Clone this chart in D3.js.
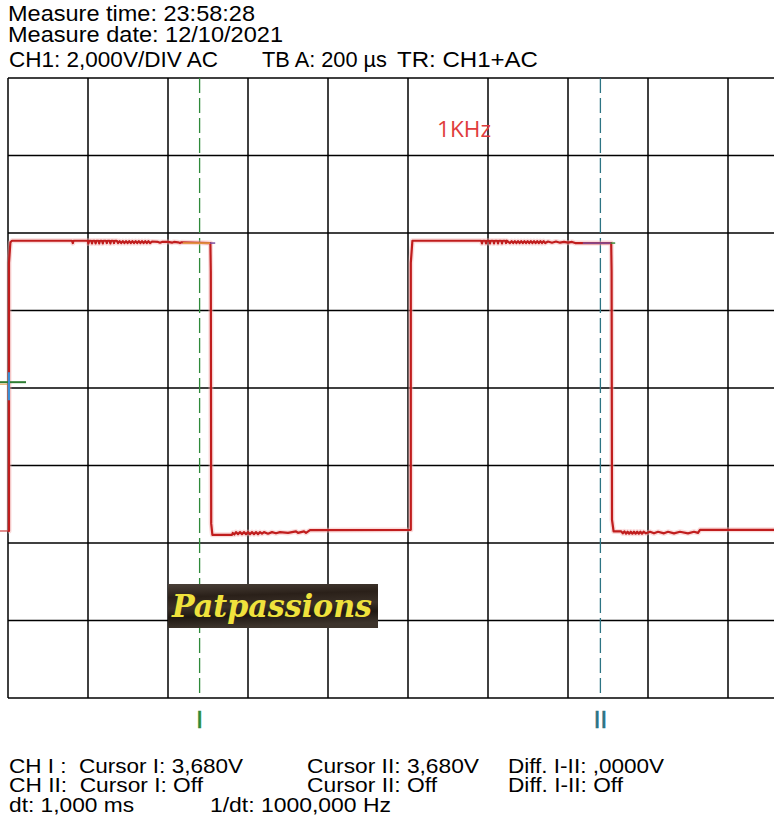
<!DOCTYPE html>
<html><head><meta charset="utf-8">
<script src="https://cdn.jsdelivr.net/npm/d3@7"></script>
<style>html,body{margin:0;padding:0;background:#fff;}svg{display:block;}text{white-space:pre;}</style>
</head><body>
<script>
// ---- data ----
const gridTimes = [0,200,400,600,800,1000,1200,1400,1600,1800,2000]; // µs
const gridVolts = [-8,-6,-4,-2,0,2,4,6,8]; // V
const headerLines = ["Measure time: 23:58:28","Measure date: 12/10/2021"];
const settingTexts = ["CH1: 2,000V/DIV AC","TB A: 200 µs","TR: CH1+AC"];
const footerRow1 = ["CH I :  Cursor I: 3,680V","Cursor II: 3,680V","Diff. I-II: ,0000V"];
const footerRow2 = ["CH II:  Cursor I: Off","Cursor II: Off","Diff. I-II: Off"];
const footerRow3 = ["dt: 1,000 ms","1/dt: 1000,000 Hz"];
const cursorTimes = [479, 1481];
const cursorLabels = ["I","II"];
const annotation = "1KHz";
const watermark = "Patpassions";
// trace CH1: [time µs, volts]
const trace = [
 [0,-3.69],[2.5,-3.69],[2.5,3.23],[6,3.76],[10,3.80],
 [160,3.80],[162,3.74],[164,3.80],
 [199,3.80],[201,3.73],[203,3.80],[208,3.80],[210,3.73],[212,3.80],
 [217,3.80],[219,3.73],[221,3.80],[226,3.80],[228,3.73],[230,3.80],
 [235,3.80],[237,3.73],[239,3.80],[245,3.80],[247,3.74],[249,3.80],
 [254,3.80],[256,3.73],[258,3.80],[263,3.80],[265,3.74],[267,3.80],
 [272,3.80],[275,3.74],[279,3.79],[283,3.74],[287,3.79],[291,3.74],[295,3.79],
 [299,3.74],[303,3.79],[307,3.74],[311,3.79],[315,3.74],[319,3.79],[323,3.74],
 [327,3.79],[331,3.74],[335,3.79],[339,3.74],[343,3.79],[347,3.74],[351,3.79],
 [355,3.74],[360,3.78],[375,3.77],[380,3.75],[385,3.77],[400,3.77],[410,3.75],
 [415,3.77],[425,3.76],[430,3.74],[434,3.76],[505,3.74],
 [506,3.74],[507,3.0],[508,-3.5],[511,-3.79],
 [560,-3.79],[562,-3.74],[566,-3.78],[570,-3.72],[575,-3.77],[580,-3.72],[585,-3.77],
 [590,-3.72],[595,-3.77],[600,-3.72],[605,-3.77],[610,-3.72],[615,-3.77],[620,-3.72],
 [625,-3.77],[630,-3.72],[635,-3.76],[640,-3.72],[650,-3.76],[660,-3.72],[670,-3.75],
 [680,-3.72],[700,-3.74],[720,-3.70],[725,-3.74],[740,-3.70],[745,-3.74],[755,-3.67],
 [1006,-3.66],[1007,-3.66],[1007,3.23],[1011,3.80],
 [1183,3.80],[1185,3.73],[1187,3.80],[1193,3.80],[1195,3.73],[1197,3.80],
 [1203,3.80],[1205,3.73],[1207,3.80],[1213,3.80],[1215,3.73],[1217,3.80],
 [1223,3.80],[1225,3.73],[1227,3.80],[1233,3.80],[1235,3.73],[1237,3.80],
 [1243,3.80],[1245,3.74],[1247,3.80],[1255,3.74],[1259,3.79],[1263,3.74],[1267,3.79],
 [1271,3.74],[1275,3.79],[1279,3.74],[1283,3.79],[1287,3.74],[1291,3.79],[1295,3.74],
 [1299,3.79],[1303,3.74],[1307,3.79],[1311,3.74],[1315,3.79],[1319,3.74],[1323,3.79],
 [1327,3.74],[1331,3.79],[1335,3.74],[1339,3.79],[1343,3.74],[1350,3.78],[1360,3.75],
 [1370,3.78],[1380,3.75],[1390,3.77],[1400,3.75],[1410,3.77],[1418,3.74],[1507,3.74],
 [1508,3.74],[1509,3.0],[1510,-3.4],[1514,-3.70],
 [1533,-3.70],[1537,-3.75],[1541,-3.70],[1545,-3.76],[1549,-3.71],[1553,-3.76],
 [1557,-3.71],[1561,-3.76],[1565,-3.71],[1569,-3.76],[1573,-3.71],[1577,-3.76],
 [1581,-3.71],[1585,-3.76],[1589,-3.71],[1595,-3.75],[1605,-3.71],[1615,-3.75],
 [1625,-3.71],[1640,-3.75],[1650,-3.71],[1665,-3.75],[1680,-3.71],[1700,-3.75],
 [1715,-3.71],[1725,-3.74],[1730,-3.66],[1930,-3.66]
];
// small overlay segments at the end of the high levels [t0, t1, volts, colour]
const overlaySegs = [
 [437,505,3.74,"#e8a848"],[505,518,3.74,"#7b4f9e"],
 [1437,1507,3.74,"#7b4f9e"],[1507,1518,3.74,"#3c8c3c"]
];
const groundMarkerVolts = 0.15;
const triggerVolts = -3.69;

// ---- drawing ----
const W = 774, H = 819;
const svg = d3.select("body").append("svg").attr("width", W).attr("height", H)
  .style("font-family", "'Liberation Sans', Arial, sans-serif");

const x = d3.scaleLinear().domain([0, 2000]).range([8, 808]);
const y = d3.scaleLinear().domain([-8, 8]).range([698, 78]);

// header
const hdr = svg.append("g").attr("font-size", 22).attr("fill", "#000");
const hdrY = [21, 42];
const hdrLen = [247, 275];
headerLines.forEach((t, i) => hdr.append("text").attr("x", 8).attr("y", hdrY[i])
  .attr("textLength", hdrLen[i]).attr("lengthAdjust", "spacingAndGlyphs").text(t));
const setX = [9, 262, 397], setLen = [209, 125, 141];
settingTexts.forEach((t, i) => hdr.append("text").attr("x", setX[i]).attr("y", 67)
  .attr("textLength", setLen[i]).attr("lengthAdjust", "spacingAndGlyphs").text(t));

// grid
const grid = svg.append("g").attr("stroke", "#000").attr("stroke-width", 1.5);
grid.selectAll("line.v").data(gridTimes).join("line").attr("class", "v")
  .attr("x1", d => x(d)).attr("x2", d => x(d)).attr("y1", y(8)).attr("y2", y(-8));
grid.selectAll("line.h").data(gridVolts).join("line").attr("class", "h")
  .attr("x1", x(0)).attr("x2", W).attr("y1", d => y(d)).attr("y2", d => y(d));

// cursors
const cursorColors = ["#2e8a3a", "#2c7484"];
svg.selectAll("line.cur").data(cursorTimes).join("line").attr("class", "cur")
  .attr("x1", d => x(d)).attr("x2", d => x(d)).attr("y1", y(8)).attr("y2", y(-8))
  .attr("stroke", (d, i) => cursorColors[i]).attr("stroke-width", 1.3)
  .attr("stroke-dasharray", "15,5");
svg.selectAll("text.curlab").data(cursorTimes).join("text").attr("class", "curlab")
  .attr("x", d => x(d)).attr("y", 728).attr("text-anchor", "middle")
  .attr("font-size", 24).attr("fill", (d, i) => cursorColors[i])
  .attr("stroke", (d, i) => cursorColors[i]).attr("stroke-width", 0.6)
  .text((d, i) => cursorLabels[i]);

// trace
const line = d3.line().x(d => x(d[0])).y(d => y(d[1]));
svg.append("path").attr("d", line(trace)).attr("fill", "none")
  .attr("stroke", "#f4b0b0").attr("stroke-width", 5).attr("stroke-opacity", 0.45)
  .attr("stroke-linejoin", "round");
svg.append("path").attr("d", line(trace)).attr("fill", "none")
  .attr("stroke", "#c01d1d").attr("stroke-width", 2.2).attr("stroke-linejoin", "round");

// overlay segments
svg.selectAll("line.ov").data(overlaySegs).join("line").attr("class", "ov")
  .attr("x1", d => x(d[0])).attr("x2", d => x(d[1]))
  .attr("y1", d => y(d[2])).attr("y2", d => y(d[2]))
  .attr("stroke", d => d[3]).attr("stroke-width", 1.5);

// ground marker crosshair and trigger mark at left edge
const gy = y(groundMarkerVolts);
svg.append("line").attr("x1", 0).attr("x2", 26).attr("y1", gy).attr("y2", gy)
  .attr("stroke", "#2e7d32").attr("stroke-width", 2);
svg.append("line").attr("x1", 0).attr("x2", 7).attr("y1", gy + 2).attr("y2", gy + 2)
  .attr("stroke", "#e09a40").attr("stroke-width", 1);
svg.append("line").attr("x1", x(2.5)).attr("x2", x(2.5)).attr("y1", gy - 10).attr("y2", gy + 18)
  .attr("stroke", "#3b8fd6").attr("stroke-width", 2);
svg.append("line").attr("x1", 0).attr("x2", 8).attr("y1", y(triggerVolts)).attr("y2", y(triggerVolts))
  .attr("stroke", "#d04040").attr("stroke-width", 1.2);

// annotation
svg.append("text").attr("x", 437).attr("y", 137).attr("font-size", 21)
  .attr("font-family", "'Open Sans', 'Liberation Sans', sans-serif")
  .attr("fill", "#e03c3c").attr("textLength", 54).attr("lengthAdjust", "spacingAndGlyphs")
  .text(annotation);

// watermark
const defs = svg.append("defs");
const gr = defs.append("linearGradient").attr("id", "wm").attr("x1", 0).attr("y1", 0).attr("x2", 0.15).attr("y2", 1);
[[0, "#4a4038"], [0.3, "#2a2019"], [0.55, "#3a3028"], [0.75, "#1f1812"], [1, "#3d342c"]]
  .forEach(s => gr.append("stop").attr("offset", s[0]).attr("stop-color", s[1]));
svg.append("rect").attr("x", 168).attr("y", 584).attr("width", 210).attr("height", 44)
  .attr("fill", "url(#wm)");
svg.append("text").attr("x", 172).attr("y", 617).attr("font-size", 32)
  .attr("font-family", "'DejaVu Serif', serif").attr("font-style", "italic").attr("font-weight", "bold")
  .attr("fill", "#efe23c").attr("textLength", 200).attr("lengthAdjust", "spacingAndGlyphs")
  .text(watermark);

// footer
const ft = svg.append("g").attr("font-size", 20).attr("fill", "#000");
const colX = [9, 307, 508];
const r1Len = [234, 172, 156], r2Len = [194, 130, 115], r3X = [9, 210], r3Len = [125, 181];
footerRow1.forEach((t, i) => ft.append("text").attr("x", colX[i]).attr("y", 773)
  .attr("textLength", r1Len[i]).attr("lengthAdjust", "spacingAndGlyphs").text(t));
footerRow2.forEach((t, i) => ft.append("text").attr("x", colX[i]).attr("y", 792)
  .attr("textLength", r2Len[i]).attr("lengthAdjust", "spacingAndGlyphs").text(t));
footerRow3.forEach((t, i) => ft.append("text").attr("x", r3X[i]).attr("y", 812)
  .attr("textLength", r3Len[i]).attr("lengthAdjust", "spacingAndGlyphs").text(t));
</script>
</body></html>
